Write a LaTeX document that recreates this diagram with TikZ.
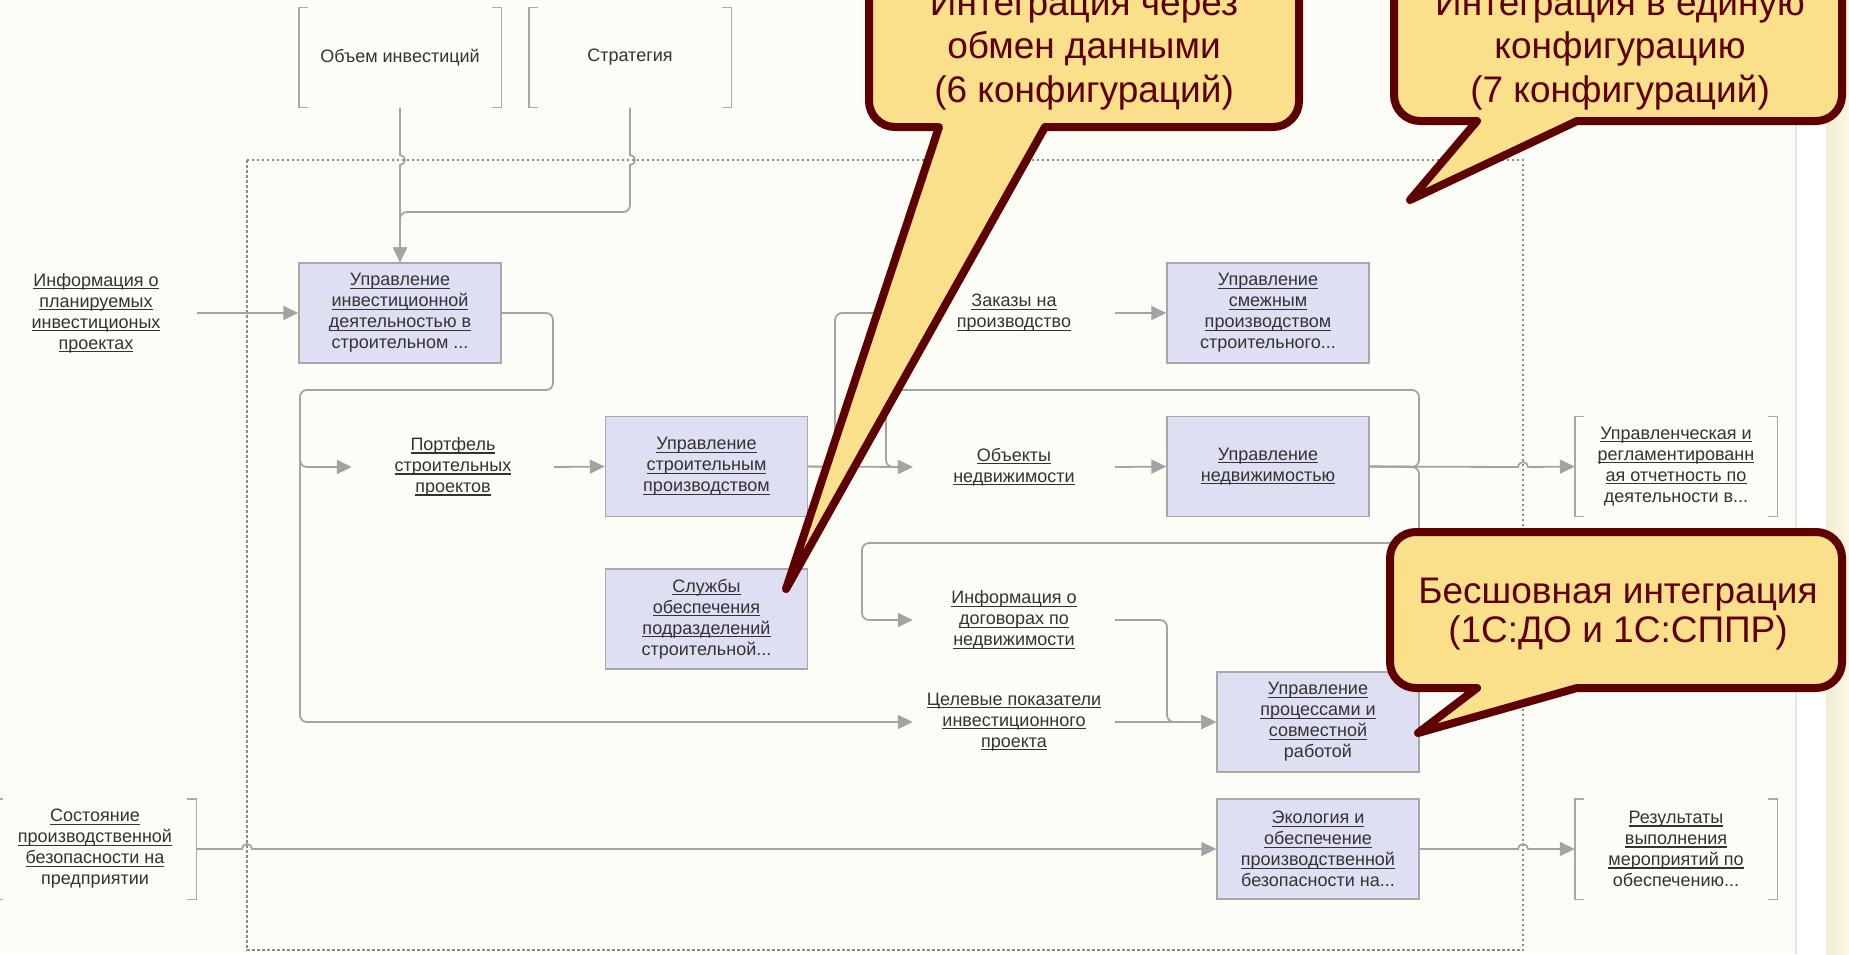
\documentclass[tikz,border=0pt]{standalone}
\usepackage{fontspec}
\setmainfont{Liberation Sans}
\usetikzlibrary{arrows.meta}

\definecolor{bg}{HTML}{FDFDF8}
\definecolor{wire}{HTML}{A3A3A3}
\definecolor{boxfill}{HTML}{DFDFF3}
\definecolor{boxline}{HTML}{A8A8A8}
\definecolor{ink}{HTML}{333333}
\definecolor{noteline}{HTML}{5E0000}
\definecolor{notefill}{HTML}{FAE08A}
\definecolor{stripline}{HTML}{E4E4E4}

\newsavebox{\lnkbox}
\newcommand{\lnk}[1]{\leavevmode\sbox{\lnkbox}{#1}\rlap{\rule[-3pt]{\wd\lnkbox}{1.2pt}}\usebox{\lnkbox}}

\begin{document}
\begin{tikzpicture}[x=1pt, y=-1pt, >={Triangle[length=15pt,width=14pt]},
  font=\fontsize{18}{21}\selectfont,
  func/.style={draw=boxline, line width=1.4pt, fill=boxfill, minimum width=202pt, minimum height=100pt, inner sep=0pt, align=center, text=ink},
  tunnel/.style={minimum width=202pt, minimum height=100pt, inner sep=0pt, align=center, text=ink},
  arrowtext/.style={minimum width=202pt, inner sep=0pt, align=center, text=ink},
  wire/.style={draw=wire, line width=1.8pt},
  elbow/.style={rounded corners=7pt},
  bracket/.style={draw=boxline, line width=1.4pt},
  note/.style={draw=noteline, fill=notefill, line width=8pt, line join=round},
  notetext/.style={text=noteline, align=center, font=\fontsize{37}{43.5}\selectfont}]

\useasboundingbox (0,0) rectangle (1849,954);
\clip (0,0) rectangle (1849,954);
\fill[bg] (0,0) rectangle (1849,954);
\fill[white] (1796,0) rectangle (1849,954);
\draw[stripline, line width=1.5pt] (1796,0) -- (1796,954);
\shade[left color=notefill!45!olive!22, right color=notefill!25] (1826,0) rectangle (1849,954);

\draw[draw=wire!85!black, dash pattern=on 2.5pt off 2.5pt, line width=2.5pt] (247,160) rectangle (1523,950);

\node[tunnel, name=vol] at (400,57.5) {Объем инвестиций};
\node[tunnel, name=strat] at (630,57.5) {Стратегия};
\node[arrowtext, name=plan] at (96,313) {\lnk{Информация о}\\\lnk{планируемых}\\\lnk{инвестиционых}\\\lnk{проектах}};
\node[func, name=invest] at (400,313) {\lnk{Управление}\\\lnk{инвестиционной}\\\lnk{деятельностью в}\\строительном ...};
\node[arrowtext, name=portf] at (453,467) {\lnk{Портфель}\\\lnk{строительных}\\\lnk{проектов}};
\node[func, name=constr] at (706.5,466.5) {\lnk{Управление}\\\lnk{строительным}\\\lnk{производством}};
\node[func, name=serv] at (706.5,619) {\lnk{Службы}\\\lnk{обеспечения}\\\lnk{подразделений}\\строительной...};
\node[arrowtext, name=orders] at (1014,313) {\lnk{Заказы на}\\\lnk{производство}};
\node[func, name=adj] at (1268,313) {\lnk{Управление}\\\lnk{смежным}\\\lnk{производством}\\строительного...};
\node[arrowtext, name=realty] at (1014,467) {\lnk{Объекты}\\\lnk{недвижимости}};
\node[func, name=estate] at (1268,466.5) {\lnk{Управление}\\\lnk{недвижимостью}};
\node[arrowtext, name=contr] at (1014,620) {\lnk{Информация о}\\\lnk{договорах по}\\\lnk{недвижимости}};
\node[arrowtext, name=target] at (1014,722) {\lnk{Целевые показатели}\\\lnk{инвестиционного}\\\lnk{проекта}};
\node[func, name=collab] at (1318,722) {\lnk{Управление}\\\lnk{процессами и}\\\lnk{совместной}\\работой};
\node[func, name=eco] at (1318,849) {\lnk{Экология и}\\\lnk{обеспечение}\\\lnk{производственной}\\безопасности на...};
\node[tunnel, name=state] at (95,849) {\lnk{Состояние}\\\lnk{производственной}\\\lnk{безопасности на}\\предприятии};
\node[tunnel, name=report] at (1676,466.5) {\lnk{Управленческая и}\\\lnk{регламентированн}\\\lnk{ая отчетность по}\\деятельности в...};
\node[tunnel, name=result] at (1676,849) {\lnk{Результаты}\\\lnk{выполнения}\\\lnk{мероприятий по}\\обеспечению...};

\foreach \n in {vol,strat,state,report,result}{
  \draw[bracket] ([xshift=9pt]\n.north west) -| (\n.south west) -- ++(9pt,0);
  \draw[bracket] ([xshift=-9pt]\n.north east) -| (\n.south east) -- ++(-9pt,0);
}

\draw[wire,->] (vol.south) -- (400,155) arc[start angle=90,end angle=-90,radius=5pt] -- (invest.north);
\draw[wire,->] (strat.south) -- (630,155) arc[start angle=90,end angle=-90,radius=5pt] -- (630,172) [elbow] -- (630,212) -- (400,212) -- (invest.north);
\draw[wire,->] (plan.east) -- (invest.west);
\draw[wire,elbow,->] (invest.east) -- (553,313) -- (553,390) -- (300,390) -- (300,467) -- (portf.west);
\draw[wire,elbow,->] (300,440) -- (300,722) -- (target.west);
\draw[wire,->] (portf.east) -- (constr.west);
\draw[wire,->] (constr.east) -- (realty.west);
\draw[wire,elbow,->] (constr.east) -- (835,467) -- (835,313) -- (orders.west);
\draw[wire,->] (orders.east) -- (adj.west);
\draw[wire,->] (realty.east) -- (estate.west);
\draw[wire,->] (estate.east) -- (1518,467) arc[start angle=180,end angle=0,radius=5pt] -- (report.west);
\draw[wire,elbow,->] (estate.east) -- (1419,467) -- (1419,390) -- (886,390) -- (886,467) -- (realty.west);
\draw[wire,elbow,->] (estate.east) -- (1419,467) -- (1419,543) -- (862,543) -- (862,620) -- (contr.west);
\draw[wire,elbow,->] (contr.east) -- (1167,620) -- (1167,722) -- (collab.west);
\draw[wire,->] (target.east) -- (collab.west);
\draw[wire,->] (state.east) -- (242,849) arc[start angle=180,end angle=0,radius=5pt] -- (eco.west);
\draw[wire,->] (eco.east) -- (1518,849) arc[start angle=180,end angle=0,radius=5pt] -- (result.west);

\draw[note] (786,589) -- (939,127) [rounded corners=26pt] -- (869,127) -- (869,-80) -- (1299,-80) -- (1299,127) [sharp corners] -- (1045,127) -- cycle;
\draw[note] (1410,200) -- (1477,121) [rounded corners=26pt] -- (1394,121) -- (1394,-80) -- (1842,-80) -- (1842,121) [sharp corners] -- (1577,121) -- cycle;
\draw[note] (1418,733) -- (1477,688) [rounded corners=26pt] -- (1390,688) -- (1390,532) -- (1842,532) -- (1842,688) [sharp corners] -- (1577,688) -- cycle;

\node[notetext, name=note1] at (1084,50) {Интеграция через\\обмен данными\\(6 конфигураций)};
\node[notetext, name=note2] at (1620,50) {Интеграция в единую\\конфигурацию\\(7 конфигураций)};
\node[notetext, name=note3, font=\fontsize{37}{38.5}\selectfont] at (1618,614) {Бесшовная интеграция\\(1С:ДО и 1С:СППР)};
\end{tikzpicture}
\end{document}
